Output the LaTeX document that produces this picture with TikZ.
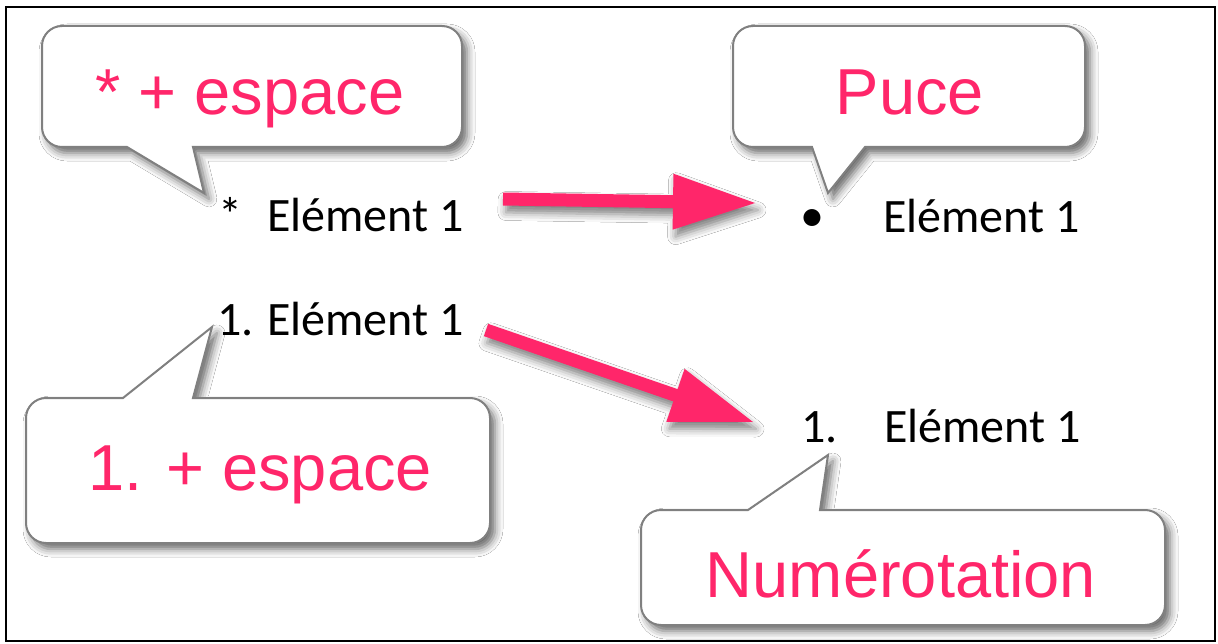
\documentclass[tikz,border=0pt]{standalone}
\usepackage{fontspec}
\setmainfont{Liberation Sans}
\newfontfamily\calib{Carlito}
\usetikzlibrary{arrows.meta,calc,shadows.blur}
\definecolor{pinkc}{RGB}{255,38,106}
\definecolor{edgec}{RGB}{128,128,128}
\begin{document}
\begin{tikzpicture}[x=1pt,y=-1pt,
  callout/.style={fill=white, draw=edgec, line width=2pt,
    blur shadow={shadow xshift=5pt, shadow yshift=-6pt, shadow blur radius=8pt, shadow opacity=60}},
  pinktext/.style={text=pinkc, font=\fontsize{65}{70}\selectfont, inner sep=0pt, anchor=base},
  itemtext/.style={font=\calib\fontsize{48}{52}\selectfont, inner sep=0pt, anchor=base west},
  bigarrow/.style={fill=pinkc,
    blur shadow={shadow xshift=3pt, shadow yshift=-7pt, shadow blur radius=8pt, shadow opacity=50}}]
\useasboundingbox (0,0) rectangle (1218,644);
\fill[white] (0,0) rectangle (1218,644);
\draw[black, line width=2.5pt] (6,7) rectangle (1215,641);

% list items
\node[itemtext] (s1) at (218,232) {*};
\node[itemtext] (e1) at (267,232) {Elément 1};
\node[itemtext] (b1) at (800,232) {•};
\node[itemtext] (r1) at (883,233) {Elément 1};
\node[itemtext] (n1) at (217,335) {1.};
\node[itemtext] (e2) at (267,335) {Elément 1};
\node[itemtext] (n2) at (801,442) {1.};
\node[itemtext] (r2) at (884,442) {Elément 1};

% callout tips
\coordinate (tip1) at (204,193);
\coordinate (tip2) at (828,193);
\coordinate (tip3) at (212,327);
\coordinate (tip4) at (828,455);

% callout 1
\path[callout] (62,26) -- (442,26) arc[start angle=270,end angle=360,radius=20]
  -- (462,127) arc[start angle=0,end angle=90,radius=20]
  -- (193,147) -- (tip1) -- (127,147)
  -- (62,147) arc[start angle=90,end angle=180,radius=20]
  -- (42,46) arc[start angle=180,end angle=270,radius=20] -- cycle;
\node[pinktext] (c1) at (250,115) {* + espace};

% callout 2
\path[callout] (753,26) -- (1065,26) arc[start angle=270,end angle=360,radius=20]
  -- (1085,127) arc[start angle=0,end angle=90,radius=20]
  -- (865,147) -- (tip2) -- (812,147)
  -- (753,147) arc[start angle=90,end angle=180,radius=20]
  -- (733,46) arc[start angle=180,end angle=270,radius=20] -- cycle;
\node[pinktext] (c2) at (910,115) {Puce};

% callout 3
\path[callout] (46,398) -- (123,398) -- (tip3) -- (193,398)
  -- (470,398) arc[start angle=270,end angle=360,radius=20]
  -- (490,523) arc[start angle=0,end angle=90,radius=20]
  -- (46,543) arc[start angle=90,end angle=180,radius=20]
  -- (26,418) arc[start angle=180,end angle=270,radius=20] -- cycle;
\node[pinktext] (c3) at (260,490) {1. + espace};

% callout 4
\path[callout] (661,510) -- (748,510) -- (tip4) -- (820,510)
  -- (1145,510) arc[start angle=270,end angle=360,radius=20]
  -- (1165,605) arc[start angle=0,end angle=90,radius=20]
  -- (661,625) arc[start angle=90,end angle=180,radius=20]
  -- (641,530) arc[start angle=180,end angle=270,radius=20] -- cycle;
\node[pinktext] (c4) at (901,597) {Numérotation};

% arrows
\coordinate (a1s) at ($(e1.base east)+(39,-33)$);
\coordinate (a1e) at ($(b1.base west)+(-45,-29)$);
\coordinate (a2s) at ($(e2.base east)+(22,-5)$);
\coordinate (a2e) at ($(n2.base west)+(-48,-20)$);
\foreach \s/\e in {a1s/a1e, a2s/a2e}{
  \path[bigarrow]
    ($(\s)!6.5pt!90:(\e)$) --
    ($($(\e)!82pt!(\s)$)!6.5pt!90:(\e)$) --
    ($($(\e)!82pt!(\s)$)!28pt!90:(\e)$) --
    (\e) --
    ($($(\e)!82pt!(\s)$)!28pt!-90:(\e)$) --
    ($($(\e)!82pt!(\s)$)!6.5pt!-90:(\e)$) --
    ($(\s)!6.5pt!-90:(\e)$) -- cycle;
}
\end{tikzpicture}
\end{document}
